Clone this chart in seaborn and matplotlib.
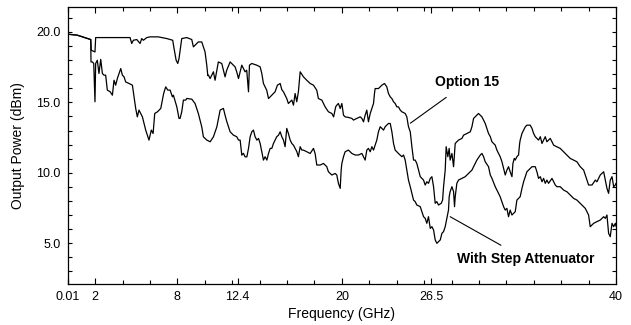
import matplotlib
matplotlib.use("Agg")
import matplotlib.pyplot as plt
import seaborn as sns
import numpy as np
from matplotlib.ticker import FixedLocator

# ---------------- data ----------------
opt15_freq = [0.0, 0.7, 1.07, 1.68, 1.72, 1.99, 2.04, 4.55, 4.67, 4.79, 5.04, 5.28, 5.40, 5.52, 5.77,
              6.01, 6.61, 7.23, 7.66, 7.76, 7.91, 8.03, 8.12, 8.32, 8.69, 9.05, 9.17, 9.53, 9.78, 9.90,
              10.02, 10.15, 10.22, 10.27, 10.39, 10.63, 10.75, 10.99, 11.24, 11.48, 11.60, 11.85, 12.09,
              12.21, 12.33, 12.46, 12.70, 12.82, 12.94, 13.06, 13.19, 13.26, 13.43, 13.79, 14.04, 14.16,
              14.28, 14.52, 14.65, 14.89, 15.13, 15.30, 15.50, 15.62, 15.74, 15.98, 16.10, 16.23, 16.35,
              16.47, 16.59, 16.71, 16.83, 16.96, 17.20, 17.44, 17.69, 17.93, 18.17, 18.29, 18.54, 18.78,
              19.02, 19.27, 19.40, 19.55, 19.63, 19.75, 19.88, 20.0, 20.12, 20.24, 20.48, 20.73, 20.85,
              21.09, 21.34, 21.46, 21.58, 21.70, 21.82, 21.94, 22.07, 22.19, 22.31, 22.38, 22.43, 22.67,
              22.92, 23.11, 23.28, 23.40, 23.53, 23.65, 23.77, 23.89, 24.01, 24.13, 24.26, 24.38, 24.62,
              24.74, 24.86, 24.99, 25.11, 25.23, 25.35, 25.47, 25.72, 25.84, 25.96, 26.08, 26.20, 26.32,
              26.45, 26.57, 26.69, 26.81, 26.93, 27.05, 27.25, 27.35, 27.42, 27.54, 27.61, 27.73, 27.83,
              27.90, 28.03, 28.15, 28.27, 28.51, 28.76, 28.88, 29.12, 29.37, 29.49, 29.61, 29.85, 29.97,
              30.10, 30.22, 30.34, 30.46, 30.58, 30.70, 30.83, 30.95, 31.07, 31.19, 31.31, 31.43, 31.55,
              31.68, 31.80, 31.92, 32.04, 32.16, 32.28, 32.41, 32.48, 32.58, 32.65, 32.77, 32.89, 32.97,
              33.01, 33.14, 33.26, 33.38, 33.50, 33.74, 33.87, 33.99, 34.11, 34.23, 34.35, 34.48, 34.60,
              34.72, 34.84, 34.96, 35.08, 35.20, 35.33, 35.45, 35.69, 35.93, 36.18, 36.42, 36.66, 36.91,
              37.15, 37.39, 37.64, 37.76, 37.88, 38.00, 38.25, 38.49, 38.61, 38.85, 39.10, 39.22, 39.34,
              39.46, 39.58, 39.71, 39.83, 39.95, 40.0]
opt15_power = [19.84, 19.77, 19.65, 19.46, 18.70, 18.58, 19.60, 19.60, 19.18, 19.41, 19.46, 19.18, 19.53, 19.41, 19.60,
               19.65, 19.65, 19.53, 19.41, 18.82, 17.99, 17.76, 18.11, 19.53, 19.60, 19.46, 18.94, 19.29, 19.29, 18.94,
               18.58, 17.60, 16.90, 16.93, 16.69, 17.17, 16.57, 17.87, 17.76, 16.81, 17.28, 17.87, 17.64,
               17.52, 17.17, 16.69, 17.64, 17.40, 17.17, 17.28, 15.75, 17.64, 17.76, 17.64, 17.52, 17.05,
               16.34, 15.86, 15.27, 15.51, 15.75, 16.22, 16.34, 15.90, 15.75, 15.27, 14.92, 15.04, 15.16,
               14.80, 15.63, 15.04, 15.75, 17.17, 16.81, 16.57, 16.34, 16.22, 15.86, 15.27, 15.16, 14.68,
               14.33, 14.21, 13.97, 14.68, 14.80, 14.92, 14.56, 14.92, 14.09, 13.97, 13.93, 13.86, 13.74,
               13.86, 13.97, 13.86, 13.62, 14.09, 14.45, 13.62, 14.21, 14.56, 14.92, 15.63, 15.98, 15.98,
               16.22, 16.34, 16.10, 15.63, 15.39, 15.27, 15.04, 14.92, 14.68, 14.68, 14.45, 14.33, 14.21,
               13.97, 13.27, 12.91, 11.85, 10.90, 10.90, 10.66, 9.72, 9.60, 9.48, 9.13, 9.36, 9.25,
               9.60, 9.72, 9.01, 7.83, 7.95, 7.71, 7.83, 8.06, 9.01, 10.19, 11.85, 11.14, 11.73,
               10.90, 11.37, 10.43, 12.08, 12.32, 12.44, 12.67, 12.79, 12.91, 13.27, 13.86, 14.09, 14.21,
               14.09, 13.97, 13.74, 13.50, 13.15, 12.79, 12.56, 12.20, 12.08, 11.96, 11.61, 11.37, 11.14,
               10.78, 10.31, 9.84, 10.19, 10.43, 10.07, 9.72, 10.66, 11.02, 10.90, 11.14, 11.26, 12.08,
               12.32, 12.79, 13.03, 13.26, 13.38, 13.38, 13.15, 12.79, 12.56, 12.44, 12.32, 12.56, 12.08,
               12.32, 12.56, 12.20, 12.32, 12.44, 12.20, 11.96, 11.84, 11.73, 11.49, 11.26, 11.02, 10.90,
               10.78, 10.43, 10.19, 9.84, 9.48, 9.13, 9.13, 9.48, 9.36, 9.84, 10.07, 9.48, 8.89,
               8.54, 9.48, 9.72, 9.01, 9.13, 9.25]

step_freq = [0.0, 0.7, 1.07, 1.68, 1.70, 1.80, 1.90, 1.99, 2.04, 2.16, 2.28, 2.41, 2.53, 2.65, 2.77, 2.89,
             3.10, 3.26, 3.38, 3.50, 3.62, 3.75, 3.87, 3.99, 4.11, 4.23, 4.48, 4.72, 4.84, 4.96, 5.08,
             5.20, 5.45, 5.69, 5.93, 6.10, 6.23, 6.35, 6.55, 6.79, 7.00, 7.15, 7.30, 7.47, 7.64, 7.71,
             7.96, 8.12, 8.20, 8.32, 8.44, 8.61, 8.69, 8.98, 9.05, 9.29, 9.53, 9.78, 9.90, 10.15, 10.39,
             10.63, 10.88, 11.12, 11.36, 11.48, 11.61, 11.85, 12.09, 12.33, 12.46, 12.58, 12.70, 12.82,
             12.94, 13.07, 13.19, 13.31, 13.43, 13.55, 13.67, 13.80, 13.92, 14.04, 14.16, 14.28, 14.40,
             14.53, 14.65, 14.77, 14.89, 15.01, 15.25, 15.38, 15.50, 15.62, 15.74, 15.86, 15.98, 16.10,
             16.23, 16.35, 16.47, 16.72, 16.83, 16.96, 17.08, 17.20, 17.44, 17.69, 17.93, 18.05, 18.17,
             18.42, 18.66, 18.90, 19.02, 19.27, 19.51, 19.63, 19.75, 19.88, 19.95, 20.0, 20.12, 20.24,
             20.48, 20.73, 20.97, 21.21, 21.46, 21.58, 21.70, 21.82, 21.94, 22.07, 22.19, 22.31, 22.43,
             22.55, 22.67, 22.80, 22.92, 23.04, 23.16, 23.28, 23.40, 23.53, 23.65, 23.77, 23.89, 24.01,
             24.13, 24.38, 24.50, 24.62, 24.74, 24.86, 24.99, 25.11, 25.23, 25.35, 25.47, 25.72, 25.84,
             25.96, 26.08, 26.20, 26.32, 26.45, 26.57, 26.69, 26.81, 26.93, 27.05, 27.18, 27.30, 27.42,
             27.54, 27.66, 27.78, 27.83, 27.90, 28.03, 28.15, 28.22, 28.27, 28.39, 28.51, 28.76, 29.00,
             29.24, 29.49, 29.73, 29.85, 30.10, 30.22, 30.34, 30.46, 30.70, 30.83, 30.95, 31.19, 31.31,
             31.55, 31.80, 31.92, 32.04, 32.16, 32.28, 32.41, 32.53, 32.65, 32.77, 32.89, 33.01, 33.14,
             33.26, 33.38, 33.50, 33.74, 33.87, 34.11, 34.23, 34.35, 34.48, 34.60, 34.72, 34.84, 34.96,
             35.08, 35.33, 35.45, 35.57, 35.69, 35.93, 36.18, 36.42, 36.66, 36.91, 37.15, 37.39, 37.76,
             38.00, 38.12, 38.37, 38.61, 38.85, 39.10, 39.22, 39.34, 39.46, 39.58, 39.71, 39.83, 39.95, 40.0]
step_power = [19.84, 19.77, 19.65, 19.46, 17.87, 17.87, 17.76, 15.04, 17.76, 17.99, 17.05, 18.05, 17.05, 16.93, 16.93, 15.87,
              15.75, 15.51, 16.57, 16.22, 16.69, 17.05, 17.40, 16.93, 16.81, 16.45, 16.34, 16.22, 15.39, 14.57, 13.97,
              14.45, 13.97, 13.03, 12.32, 13.03, 12.79, 14.21, 14.33, 14.57, 15.63, 16.10, 15.87, 15.87, 15.39, 15.51,
              14.68, 13.86, 13.86, 14.33, 15.16, 15.16, 15.28, 15.23, 15.23, 14.92, 14.21, 13.26, 12.55, 12.32, 12.20,
              12.55, 13.26, 14.45, 14.57, 14.09, 13.62, 12.91, 12.67, 12.56, 12.32, 12.32, 11.25, 11.38,
              11.13, 11.13, 11.73, 12.56, 12.91, 13.03, 12.56, 12.32, 12.44, 12.08, 11.49, 10.90, 11.14,
              10.90, 11.37, 11.73, 11.73, 12.08, 12.56, 12.67, 12.91, 12.56, 12.32, 11.85, 13.15, 12.79,
              12.32, 12.08, 11.96, 11.49, 11.14, 11.85, 11.61, 11.61, 11.49, 11.37, 11.73, 11.37, 10.55,
              10.55, 10.66, 10.43, 10.07, 9.84, 9.95, 9.84, 9.25, 8.89, 10.19, 10.66, 11.14, 11.49,
              11.61, 11.37, 11.26, 11.26, 11.37, 11.14, 10.90, 11.61, 11.73, 11.49, 11.85, 11.61, 11.96,
              12.32, 12.91, 13.27, 13.15, 13.03, 13.27, 13.38, 13.50, 13.50, 12.91, 12.08, 11.61, 11.49,
              11.37, 11.14, 11.26, 10.90, 10.19, 9.48, 9.01, 8.54, 8.06, 7.95, 7.71, 7.59, 7.24,
              6.88, 6.76, 6.41, 6.88, 6.05, 6.17, 5.94, 5.23, 4.99, 5.11, 5.23, 5.70, 5.82,
              6.17, 6.76, 7.35, 8.30, 8.66, 9.01, 8.66, 7.59, 8.30, 9.25, 9.48, 9.60, 9.72,
              9.95, 10.19, 10.66, 10.90, 11.26, 11.37, 11.14, 10.78, 10.43, 9.84, 9.60, 9.01, 8.77,
              8.30, 7.59, 7.35, 7.47, 6.88, 7.35, 7.00, 7.12, 7.24, 8.06, 8.18, 8.30, 8.89,
              9.36, 9.72, 10.07, 10.31, 10.43, 10.43, 10.07, 9.60, 9.72, 9.36, 9.60, 9.25, 9.48,
              9.25, 9.60, 9.36, 9.13, 9.01, 9.01, 8.77, 8.65, 8.42, 8.18, 8.06, 7.83, 7.47,
              7.00, 6.17, 6.41, 6.53, 6.64, 6.88, 6.76, 7.00, 5.70, 5.46, 6.41, 6.17, 6.41, 6.20]

x_major_ticks = [0.01, 2, 8, 12.4, 20, 26.5, 40]
x_major_labels = ["0.01", "2", "8", "12.4", "20", "26.5", "40"]
x_minor_ticks = [0, 4, 6, 10, 12, 14, 16, 18, 22, 24, 26, 28, 30, 32, 34, 36, 38]
y_major_ticks = [5, 10, 15, 20]
y_major_labels = ["5.0", "10.0", "15.0", "20.0"]
y_minor_ticks = [3, 4, 6, 7, 8, 9, 11, 12, 13, 14, 16, 17, 18, 19, 21]

# ---------------- plot ----------------
sns.set_style("ticks")
plt.rcParams["font.family"] = ["Liberation Sans", "DejaVu Sans"]
plt.rcParams["text.color"] = "black"
plt.rcParams["axes.labelcolor"] = "black"

fig = plt.figure(figsize=(6.31, 3.25), dpi=100)
ax = fig.add_axes([67.7 / 631, 1 - 284 / 325, (616 - 67.7) / 631, (284 - 7.3) / 325])

sns.lineplot(x=opt15_freq, y=opt15_power, ax=ax, color="black", linewidth=0.9,
             estimator=None, sort=False)
sns.lineplot(x=step_freq, y=step_power, ax=ax, color="black", linewidth=0.9,
             estimator=None, sort=False)

ax.set_xlim(0, 40)
ax.set_ylim(2.1, 21.75)

ax.xaxis.set_major_locator(FixedLocator(x_major_ticks))
ax.set_xticklabels(x_major_labels)
ax.xaxis.set_minor_locator(FixedLocator(x_minor_ticks))
ax.yaxis.set_major_locator(FixedLocator(y_major_ticks))
ax.set_yticklabels(y_major_labels)
ax.yaxis.set_minor_locator(FixedLocator(y_minor_ticks))

ax.tick_params(axis="both", which="both", direction="in", top=True, right=True,
               color="black", width=0.8, labelsize=9, labelcolor="black")
ax.tick_params(axis="x", which="major", length=4.5, pad=5)
ax.tick_params(axis="x", which="minor", length=3)
ax.tick_params(axis="y", which="both", length=3, pad=5)

for s in ax.spines.values():
    s.set_color("black")
    s.set_linewidth(0.9)

ax.set_xlabel("Frequency (GHz)", fontsize=10, labelpad=3, color="black")
ax.set_ylabel("Output Power (dBm)", fontsize=10, labelpad=8, color="black")

ax.annotate("Option 15", xy=(25.0, 13.52), xytext=(29.15, 16.43),
            fontsize=10, fontweight="bold", ha="center", va="center", color="black",
            arrowprops=dict(arrowstyle="-", color="black", lw=0.8,
                            shrinkA=6, shrinkB=0))
ax.annotate("With Step Attenuator", xy=(27.9, 6.88), xytext=(33.38, 3.88),
            fontsize=10, fontweight="bold", ha="center", va="center", color="black",
            arrowprops=dict(arrowstyle="-", color="black", lw=0.8,
                            shrinkA=5, shrinkB=0))

fig.savefig("out.png", dpi=100)
